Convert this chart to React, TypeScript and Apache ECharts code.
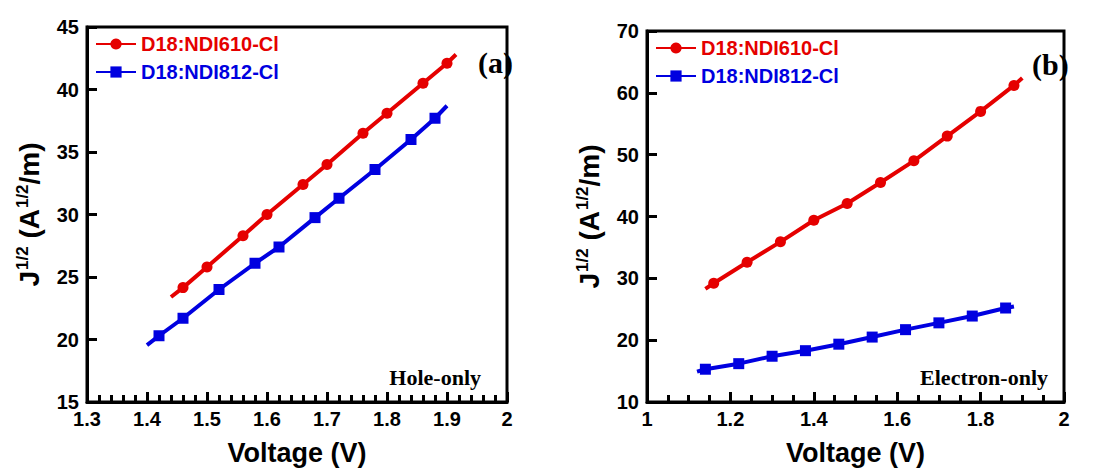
import React, { useEffect, useRef } from "react";
import * as echarts from "echarts";

const seriesNames = ["D18:NDI610-Cl", "D18:NDI812-Cl"];
const seriesColors = ["#e50000", "#0000e0"];

// Panel (a) hole-only
const leftRedV = [1.44, 1.46, 1.5, 1.56, 1.6, 1.66, 1.7, 1.76, 1.8, 1.86, 1.9, 1.915];
const leftRedJ = [23.4, 24.15, 25.8, 28.3, 30.0, 32.4, 34.0, 36.5, 38.1, 40.5, 42.1, 42.8];
const leftBlueV = [1.4, 1.42, 1.46, 1.52, 1.58, 1.62, 1.68, 1.72, 1.78, 1.84, 1.88, 1.9];
const leftBlueJ = [19.55, 20.3, 21.7, 24.0, 26.1, 27.4, 29.75, 31.3, 33.6, 36.0, 37.7, 38.7];

// Panel (b) electron-only
const rightRedV = [1.14, 1.16, 1.24, 1.32, 1.4, 1.48, 1.56, 1.64, 1.72, 1.8, 1.88, 1.9];
const rightRedJ = [28.3, 29.2, 32.6, 35.9, 39.4, 42.1, 45.5, 49.0, 53.0, 57.0, 61.2, 62.4];
const rightBlueV = [1.12, 1.14, 1.22, 1.3, 1.38, 1.46, 1.54, 1.62, 1.7, 1.78, 1.86, 1.88];
const rightBlueJ = [14.9, 15.3, 16.2, 17.4, 18.3, 19.35, 20.5, 21.7, 22.8, 23.9, 25.2, 25.45];

const leftX = { min: 1.3, max: 2, interval: 0.1, minorSplit: 5 };
const leftY = { min: 15, max: 45, interval: 5 };
const rightX = { min: 1, max: 2, interval: 0.2, minorSplit: 4 };
const rightY = { min: 10, max: 70, interval: 10 };

const panelTags = ["(a)", "(b)"];
const panelNotes = ["Hole-only", "Electron-only"];

const SANS = "Arial, 'Liberation Sans', sans-serif";
const SERIF = "'Times New Roman', 'Liberation Serif', serif";

function buildData(xs: number[], ys: number[]) {
  return xs.map((x, i) => {
    const item: any = { value: [x, ys[i]] };
    if (i === 0 || i === xs.length - 1) item.symbol = "none";
    return item;
  });
}

function xAxisCfg(gridIndex: number, ax: any) {
  return {
    type: "value",
    gridIndex,
    position: "bottom",
    min: ax.min,
    max: ax.max,
    interval: ax.interval,
    name: "Voltage (V)",
    nameLocation: "middle",
    nameGap: 37,
    nameTextStyle: { fontSize: 27, fontWeight: "bold", color: "#000", fontFamily: SANS },
    axisLine: { show: true, onZero: false, lineStyle: { color: "#000", width: 3 } },
    axisTick: { show: true, inside: true, length: 10, lineStyle: { color: "#000", width: 3 } },
    minorTick: { show: true, splitNumber: ax.minorSplit, length: 7, lineStyle: { color: "#000", width: 3 } },
    axisLabel: {
      color: "#000",
      fontSize: 20,
      fontWeight: "bold",
      fontFamily: SANS,
      margin: 7,
      formatter: (v: number) => String(Math.round(v * 100) / 100),
    },
    splitLine: { show: false },
    minorSplitLine: { show: false },
    z: 5,
  };
}

function yAxisCfg(gridIndex: number, ax: any) {
  return {
    type: "value",
    gridIndex,
    position: "left",
    min: ax.min,
    max: ax.max,
    interval: ax.interval,
    name: "{a|J}{s|1/2}{a| (A}{s|1/2}{a|/m)}",
    nameLocation: "middle",
    nameGap: 42,
    nameTextStyle: {
      color: "#000",
      rich: {
        a: { fontSize: 28, fontWeight: "bold", fontFamily: SANS, color: "#000", lineHeight: 32 },
        s: { fontSize: 17, fontWeight: "bold", fontFamily: SANS, color: "#000", lineHeight: 32, padding: [0, 0, 14, 1] },
      },
    },
    axisLine: { show: true, onZero: false, lineStyle: { color: "#000", width: 3 } },
    axisTick: { show: true, inside: true, length: 10, lineStyle: { color: "#000", width: 3 } },
    axisLabel: { color: "#000", fontSize: 20, fontWeight: "bold", fontFamily: SANS, margin: 8 },
    splitLine: { show: false },
    z: 5,
  };
}

function lineSeries(name: string, color: string, symbol: string, size: number, xIdx: number, xs: number[], ys: number[]) {
  return {
    type: "line",
    name,
    xAxisIndex: xIdx,
    yAxisIndex: xIdx,
    data: buildData(xs, ys),
    symbol,
    symbolSize: size,
    showAllSymbol: true,
    itemStyle: { color },
    lineStyle: { color, width: 4 },
    smooth: false,
    z: 3,
  };
}

export default function App() {
  const ref = useRef<HTMLDivElement>(null);
  useEffect(() => {
    if (!ref.current) return;
    const chart = echarts.init(ref.current, undefined, { renderer: "svg" });
    const legendData = seriesNames.map((n, i) => ({ name: n, textStyle: { color: seriesColors[i] } }));
    const legendCommon = {
      orient: "vertical",
      itemWidth: 40,
      itemHeight: 14,
      itemGap: 8,
      textStyle: { fontSize: 20, fontWeight: "bold", fontFamily: SANS },
      data: legendData,
      selectedMode: false,
    };
    chart.setOption({
      animation: false,
      backgroundColor: "#fff",
      grid: [
        { left: 87, top: 27, width: 420, height: 377, show: true, borderColor: "#000", borderWidth: 3 },
        { left: 647, top: 31, width: 417, height: 372, show: true, borderColor: "#000", borderWidth: 3 },
      ],
      xAxis: [xAxisCfg(0, leftX), xAxisCfg(1, rightX)],
      yAxis: [yAxisCfg(0, leftY), yAxisCfg(1, rightY)],
      legend: [
        { ...legendCommon, left: 90, top: 29 },
        { ...legendCommon, left: 650, top: 33 },
      ],
      series: [
        lineSeries(seriesNames[1], seriesColors[1], "rect", 11, 0, leftBlueV, leftBlueJ),
        lineSeries(seriesNames[0], seriesColors[0], "circle", 11, 0, leftRedV, leftRedJ),
        lineSeries(seriesNames[1], seriesColors[1], "rect", 11, 1, rightBlueV, rightBlueJ),
        lineSeries(seriesNames[0], seriesColors[0], "circle", 11, 1, rightRedV, rightRedJ),
      ],
      graphic: [
        { type: "text", left: 478, top: 47, style: { text: panelTags[0], font: `bold 30px ${SERIF}`, fill: "#000" } },
        { type: "text", left: 1032, top: 49, style: { text: panelTags[1], font: `bold 30px ${SERIF}`, fill: "#000" } },
        { type: "text", right: 1099 - 481, top: 366, style: { text: panelNotes[0], font: `bold 22px ${SERIF}`, fill: "#000" } },
        { type: "text", right: 1099 - 1048, top: 366, style: { text: panelNotes[1], font: `bold 22px ${SERIF}`, fill: "#000" } },
      ],
    });
    return () => chart.dispose();
  }, []);
  return (
    <div
      ref={ref}
      style={{ position: "fixed", left: 0, top: 0, width: 1099, height: 471, background: "#fff" }}
    />
  );
}
